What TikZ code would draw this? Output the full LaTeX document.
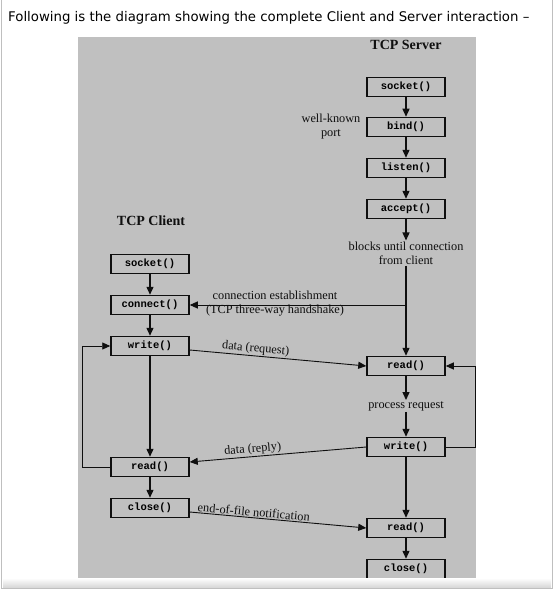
\documentclass[tikz,border=0pt]{standalone}
\usepackage{fontspec}
\setmainfont{Liberation Serif}
\setmonofont{Liberation Mono}
\newfontfamily\pagefont{DejaVu Sans}
\usetikzlibrary{arrows.meta}

\definecolor{panelgray}{RGB}{192,192,192}
\definecolor{inkdark}{RGB}{15,15,15}

\tikzset{
  fn/.style={draw=inkdark, line width=1.5pt, minimum width=78pt, minimum height=19pt,
    inner sep=0pt, font=\ttfamily\bfseries\fontsize{10.5}{12}\selectfont},
  lbl/.style={font=\fontsize{12.3}{14}\selectfont, inner sep=1pt, text=inkdark},
  ttl/.style={font=\bfseries\fontsize{14}{16}\selectfont, text=inkdark},
  flow/.style={-{Triangle[length=8pt,width=7pt]}, line width=1.3pt, draw=inkdark},
  msg/.style={-{Triangle[length=8pt,width=7pt]}, line width=0.9pt, draw=inkdark},
  msgback/.style={{Triangle[length=8pt,width=7pt]}-, line width=0.9pt, draw=inkdark},
}

\begin{document}
\begin{tikzpicture}[x=1pt,y=-1pt]
\useasboundingbox (0,0) rectangle (555,591);
\fill[white] (0,0) rectangle (555,591);

% page frame and caption
\draw[gray!50] (1.5,0) -- (1.5,588) -- (552,588) -- (552,0);
\node[anchor=west, inner sep=0pt, font=\pagefont\fontsize{13.3}{15}\selectfont] (head) at (8,18)
  {Following is the diagram showing the complete Client and Server interaction –};

\fill[panelgray] (78,37) rectangle (476,578);

% server side
\node[ttl] (srvtitle) at (406,45) {TCP Server};
\node[fn] (ssocket) at (406,87) {socket()};
\node[fn] (sbind) at (406,127) {bind()};
\node[fn] (slisten) at (406,168) {listen()};
\node[fn] (saccept) at (406,209) {accept()};
\node[lbl, align=center] (sblock) at (406,253) {blocks until connection\\from client};
\node[fn] (sread) at (406,366) {read()};
\node[lbl] (sproc) at (406,406) {process request};
\node[fn] (swrite) at (406,447) {write()};
\node[fn] (sread2) at (406,528) {read()};
\node[fn] (sclose) at (406,569) {close()};
\node[lbl, align=center] (sport) at (331,127) {well-known\\port};

% client side
\node[ttl] (clititle) at (151,221) {TCP Client};
\node[fn] (csocket) at (150,264) {socket()};
\node[fn] (cconnect) at (150,305) {connect()};
\node[fn] (cwrite) at (150,346) {write()};
\node[fn] (cread) at (150,467) {read()};
\node[fn] (cclose) at (150,508) {close()};

\draw[flow] (ssocket) -- (sbind);
\draw[flow] (sbind) -- (slisten);
\draw[flow] (slisten) -- (saccept);
\draw[flow] (saccept) -- (sblock);
\draw[flow] (sblock) -- (sread);
\draw[flow] (sread) -- (sproc);
\draw[flow] (sproc) -- (swrite);
\draw[flow] (swrite) -- (sread2);
\draw[flow] (sread2) -- (sclose);
\draw[msg] (swrite.east) -- ++(30,0) |- (sread.east);

\draw[flow] (csocket) -- (cconnect);
\draw[flow] (cconnect) -- (cwrite);
\draw[flow] (cwrite) -- (cread);
\draw[flow] (cread) -- (cclose);
\draw[msg] (cread.west) -- ++(-28,0) |- (cwrite.west);

% messages between the two
\coordinate (sjoin) at (sblock.south |- cconnect.east);
\draw[msg] (sjoin) -- (cconnect.east);
\node[lbl, align=center] (handshake) at (275,304) {connection establishment\\(TCP three-way handshake)};
\draw[msg] ([yshift=-4pt]cwrite.east) -- node[lbl, sloped, above, pos=0.37] {data (request)} (sread.west);
\draw[msgback] ([yshift=5pt]cread.east) -- node[lbl, sloped, above, pos=0.36] {data (reply)} (swrite.west);
\draw[msg] ([yshift=-4pt]cclose.east) -- node[lbl, sloped, above, pos=0.36] {end-of-file notification} (sread2.west);

% bottom edge of the page
\shade[top color=white, bottom color=gray!30] (3,578) rectangle (551,587);
\end{tikzpicture}
\end{document}
